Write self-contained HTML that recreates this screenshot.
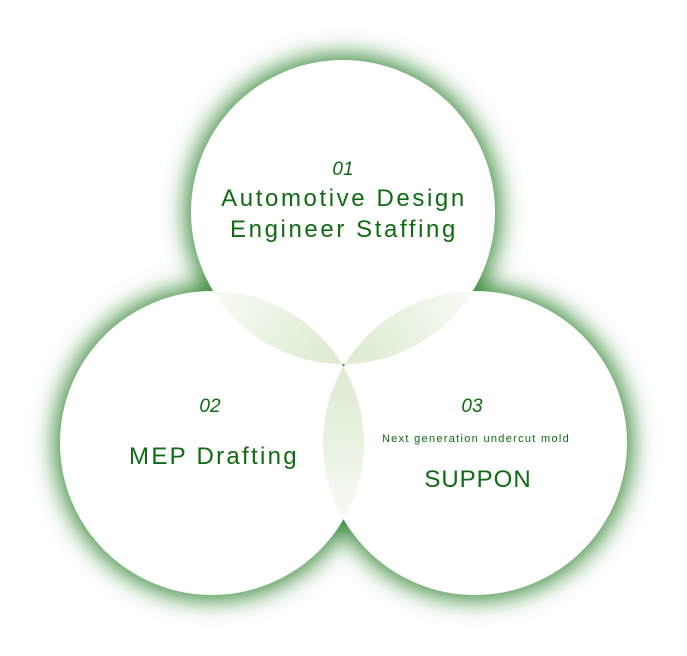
<!DOCTYPE html>
<html><head><style>
html,body{margin:0;padding:0;background:#fff;width:687px;height:656px;overflow:hidden}
svg{display:block}
text{font-family:"Liberation Sans","DejaVu Sans",sans-serif;fill:#0f6b12}
</style></head><body>
<svg width="687" height="656" viewBox="0 0 687 656">
<defs>
<filter id="glow" x="-30%" y="-30%" width="160%" height="160%">
<feGaussianBlur stdDeviation="12"/>
</filter>
<clipPath id="cT"><circle cx="343" cy="212" r="152"/></clipPath>
<clipPath id="cL"><circle cx="212" cy="443" r="152"/></clipPath>
<linearGradient id="g1" gradientUnits="userSpaceOnUse" x1="215" y1="290" x2="340" y2="362"><stop offset="0" stop-color="#f7fbf4"/><stop offset="1" stop-color="#dcebd0"/></linearGradient>
<linearGradient id="g2" gradientUnits="userSpaceOnUse" x1="472" y1="290" x2="346" y2="362"><stop offset="0" stop-color="#f7fbf4"/><stop offset="1" stop-color="#dcebd0"/></linearGradient>
<linearGradient id="g3" gradientUnits="userSpaceOnUse" x1="0" y1="366" x2="0" y2="518"><stop offset="0" stop-color="#dcebd0"/><stop offset="1" stop-color="#f6faf3"/></linearGradient>
</defs>
<g filter="url(#glow)" fill="#3a8a3a">
<circle cx="343" cy="212" r="157"/>
<circle cx="212" cy="443" r="157"/>
<circle cx="475" cy="443" r="157"/>
</g>
<g fill="#fff">
<circle cx="343" cy="212" r="152"/>
<circle cx="212" cy="443" r="152"/>
<circle cx="475" cy="443" r="152"/>
</g>
<g clip-path="url(#cT)"><circle cx="212" cy="443" r="152" fill="url(#g1)"/></g>
<g clip-path="url(#cT)"><circle cx="475" cy="443" r="152" fill="url(#g2)"/></g>
<g clip-path="url(#cL)"><circle cx="475" cy="443" r="152" fill="url(#g3)"/></g>
<text x="343" y="175" font-size="19" font-style="italic" text-anchor="middle">01</text>
<text x="344" y="206" font-size="24" text-anchor="middle" letter-spacing="2.6">Automotive Design</text>
<text x="344" y="237" font-size="24" text-anchor="middle" letter-spacing="2.6">Engineer Staffing</text>
<text x="210" y="412" font-size="19" font-style="italic" text-anchor="middle">02</text>
<text x="214" y="464" font-size="24" text-anchor="middle" letter-spacing="2.3">MEP Drafting</text>
<text x="472" y="412" font-size="19" font-style="italic" text-anchor="middle">03</text>
<text x="476" y="442" font-size="11" text-anchor="middle" letter-spacing="1.3">Next generation undercut mold</text>
<text x="478" y="487" font-size="24" text-anchor="middle" letter-spacing="1">SUPPON</text>
</svg>
</body></html>
